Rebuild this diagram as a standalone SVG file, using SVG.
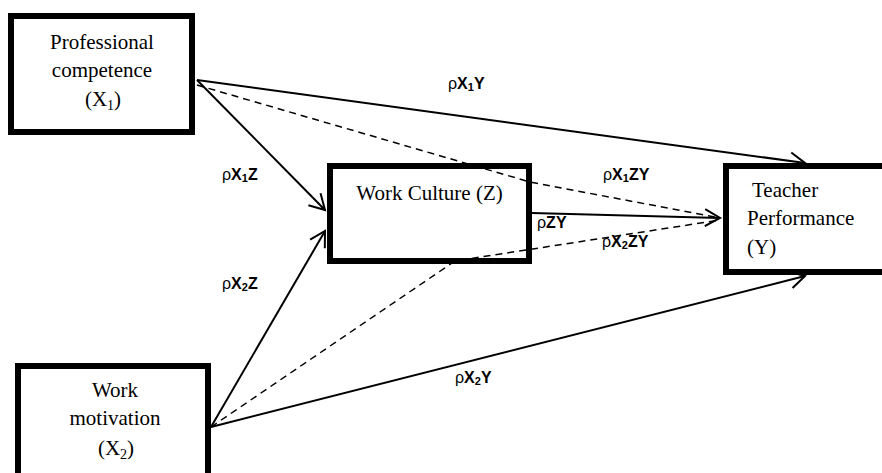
<svg xmlns="http://www.w3.org/2000/svg" width="882" height="473" viewBox="0 0 882 473">
<style>
.box{fill:#fff;stroke:#000;stroke-width:6}
.t{font-family:"Liberation Serif","Times New Roman",serif;font-size:21px;fill:#000}
.sub{font-size:14px}
.sol{fill:none;stroke:#000;stroke-width:2}
.dash{fill:none;stroke:#000;stroke-width:1.5;stroke-dasharray:7 5}
.lb{font-family:"Liberation Sans",Arial,sans-serif;font-size:16px;font-weight:bold;fill:#000}
.rho{font-weight:normal}
.ls{font-size:11px}
</style>
<defs>
<marker id="arr" markerUnits="userSpaceOnUse" markerWidth="20" markerHeight="20" refX="18" refY="10" orient="auto" overflow="visible">
<path d="M3,1.5 L18,10 L3,18.5" fill="none" stroke="#000" stroke-width="2"/>
</marker>
</defs>
<g id="node-x1">
<rect class="box" x="11" y="16" width="181" height="116"/>
<text class="t" x="102" y="49" text-anchor="middle">Professional</text>
<text class="t" x="102" y="77" text-anchor="middle">competence</text>
<text class="t" x="103" y="106" text-anchor="middle">(X<tspan class="sub" dy="4">1</tspan><tspan dy="-4">)</tspan></text>
</g>
<g id="node-x2">
<rect class="box" x="18" y="366" width="190" height="120"/>
<text class="t" x="115" y="397" text-anchor="middle">Work</text>
<text class="t" x="115" y="425" text-anchor="middle">motivation</text>
<text class="t" x="116" y="455" text-anchor="middle">(X<tspan class="sub" dy="4">2</tspan><tspan dy="-4">)</tspan></text>
</g>
<g id="node-z">
<rect class="box" x="330" y="166" width="199" height="95"/>
<text class="t" x="429.5" y="200" text-anchor="middle">Work Culture (Z)</text>
</g>
<g id="connectors">
<line class="sol" x1="197" y1="80" x2="805" y2="163" marker-end="url(#arr)"/>
<line class="sol" x1="197" y1="80" x2="325" y2="210" marker-end="url(#arr)"/>
<polyline class="dash" points="197,85 530,182 720,218"/>
<line class="sol" x1="532" y1="213" x2="720" y2="218" marker-end="url(#arr)"/>
<polyline class="dash" points="211,427 455,261 720,220"/>
<line class="sol" x1="211" y1="427" x2="325" y2="231" marker-end="url(#arr)"/>
<line class="sol" x1="211" y1="427" x2="805" y2="276" marker-end="url(#arr)"/>
</g>
<g id="node-y">
<rect class="box" x="726" y="166" width="200" height="106"/>
<text class="t" x="752" y="197">Teacher</text>
<text class="t" x="747" y="225">Performance</text>
<text class="t" x="747" y="254">(Y)</text>
</g>
<g id="labels">
<text class="lb" x="448" y="89"><tspan class="rho">ρ</tspan>X<tspan class="ls" dy="2">1</tspan><tspan dy="-2">Y</tspan></text>
<text class="lb" x="222" y="180"><tspan class="rho">ρ</tspan>X<tspan class="ls" dy="2">1</tspan><tspan dy="-2">Z</tspan></text>
<text class="lb" x="222" y="289"><tspan class="rho">ρ</tspan>X<tspan class="ls" dy="2">2</tspan><tspan dy="-2">Z</tspan></text>
<text class="lb" x="603" y="180"><tspan class="rho">ρ</tspan>X<tspan class="ls" dy="2">1</tspan><tspan dy="-2">ZY</tspan></text>
<text class="lb" x="537" y="228"><tspan class="rho">ρ</tspan>ZY</text>
<text class="lb" x="602" y="247"><tspan class="rho">ρ</tspan>X<tspan class="ls" dy="2">2</tspan><tspan dy="-2">ZY</tspan></text>
<text class="lb" x="455" y="383"><tspan class="rho">ρ</tspan>X<tspan class="ls" dy="2">2</tspan><tspan dy="-2">Y</tspan></text>
</g>
</svg>
